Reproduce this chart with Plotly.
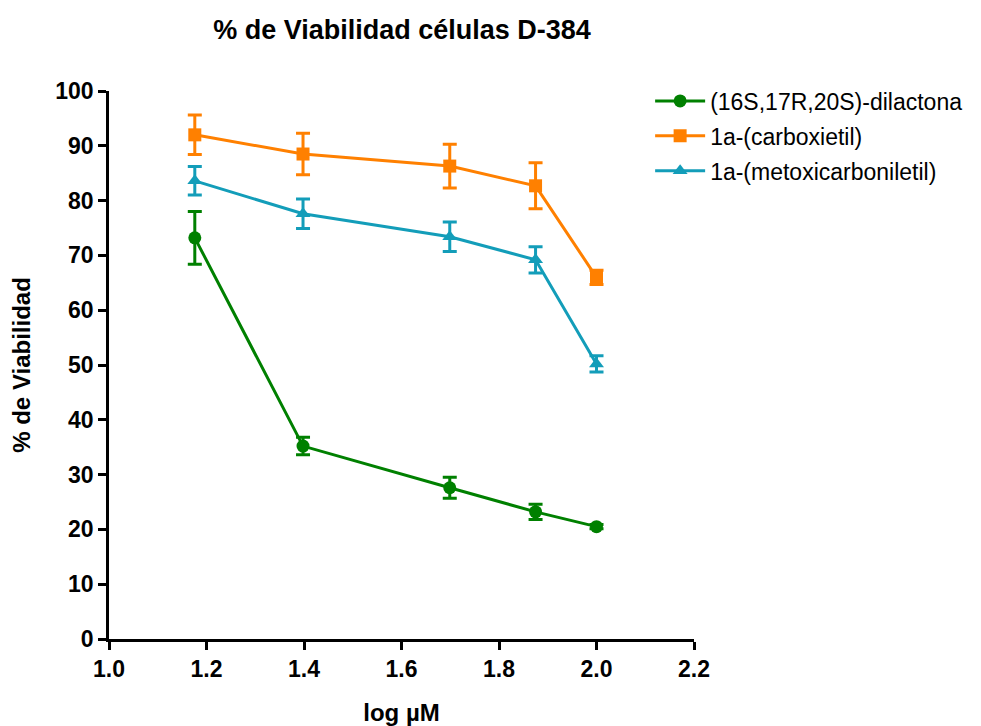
import plotly.graph_objects as go

log_conc = [1.176, 1.398, 1.699, 1.875, 2.0]

dilactona = [73.2, 35.2, 27.6, 23.2, 20.5]
dilactona_err = [4.8, 1.6, 1.9, 1.4, 0.4]

carboxietil = [92.0, 88.5, 86.3, 82.7, 66.0]
carboxietil_err = [3.6, 3.8, 4.0, 4.2, 1.3]

metoxi = [83.6, 77.6, 73.4, 69.2, 50.2]
metoxi_err = [2.6, 2.7, 2.7, 2.4, 1.5]

names = ["(16S,17R,20S)-dilactona", "1a-(carboxietil)", "1a-(metoxicarboniletil)"]
colors = ["#008000", "#FF8000", "#139DB9"]
symbols = ["circle", "square", "triangle-up"]
series = [dilactona, carboxietil, metoxi]
errors = [dilactona_err, carboxietil_err, metoxi_err]

x_ticks = [1.0, 1.2, 1.4, 1.6, 1.8, 2.0, 2.2]
y_ticks = [0, 10, 20, 30, 40, 50, 60, 70, 80, 90, 100]

FONT = "Arial, 'Liberation Sans', sans-serif"

fig = go.Figure()
for i in range(3):
    fig.add_trace(go.Scatter(
        x=log_conc, y=series[i], name=names[i], mode="lines+markers",
        line=dict(color=colors[i], width=3),
        marker=dict(symbol=symbols[i], size=13, color=colors[i]),
        error_y=dict(type="data", array=errors[i], visible=True,
                     color=colors[i], thickness=3, width=7),
        legendgroup=str(i), cliponaxis=False,
    ))

fig.update_layout(
    width=973, height=718,
    margin=dict(l=101, r=287, t=83, b=87, autoexpand=False),
    plot_bgcolor="white", paper_bgcolor="white",
    font=dict(family=FONT, color="black"),
    title=dict(text="<b>% de Viabilidad células D-384</b>", x=394/973, xanchor="center",
               y=1 - 22/718, yanchor="middle", font=dict(size=27, family=FONT)),
    legend=dict(x=0.925, y=1.021, xanchor="left", yanchor="top",
                font=dict(size=23, family=FONT), tracegroupgap=2, itemwidth=50,
                bgcolor="rgba(0,0,0,0)"),
    showlegend=True,
)
fig.update_xaxes(
    range=[1.0, 2.2], tickvals=x_ticks, ticktext=[f"{v:.1f}" for v in x_ticks],
    showgrid=False, zeroline=False, showline=True, linecolor="black", linewidth=2.5,
    ticks="outside", ticklen=8, tickwidth=2.5, tickcolor="black", automargin=False,
    tickfont=dict(size=23, family=FONT, weight="bold"),
    title=dict(text="<b>log µM</b>", font=dict(size=24, family=FONT), standoff=29),
)
fig.update_yaxes(
    range=[0, 100], tickvals=y_ticks,
    showgrid=False, zeroline=False, showline=True, linecolor="black", linewidth=2.5,
    ticks="outside", ticklen=8, tickwidth=2.5, tickcolor="black", automargin=False,
    tickfont=dict(size=23, family=FONT, weight="bold"),
    title=dict(text="<b>% de Viabilidad</b>", font=dict(size=24, family=FONT), standoff=18),
)

fig.write_html("out.html")
